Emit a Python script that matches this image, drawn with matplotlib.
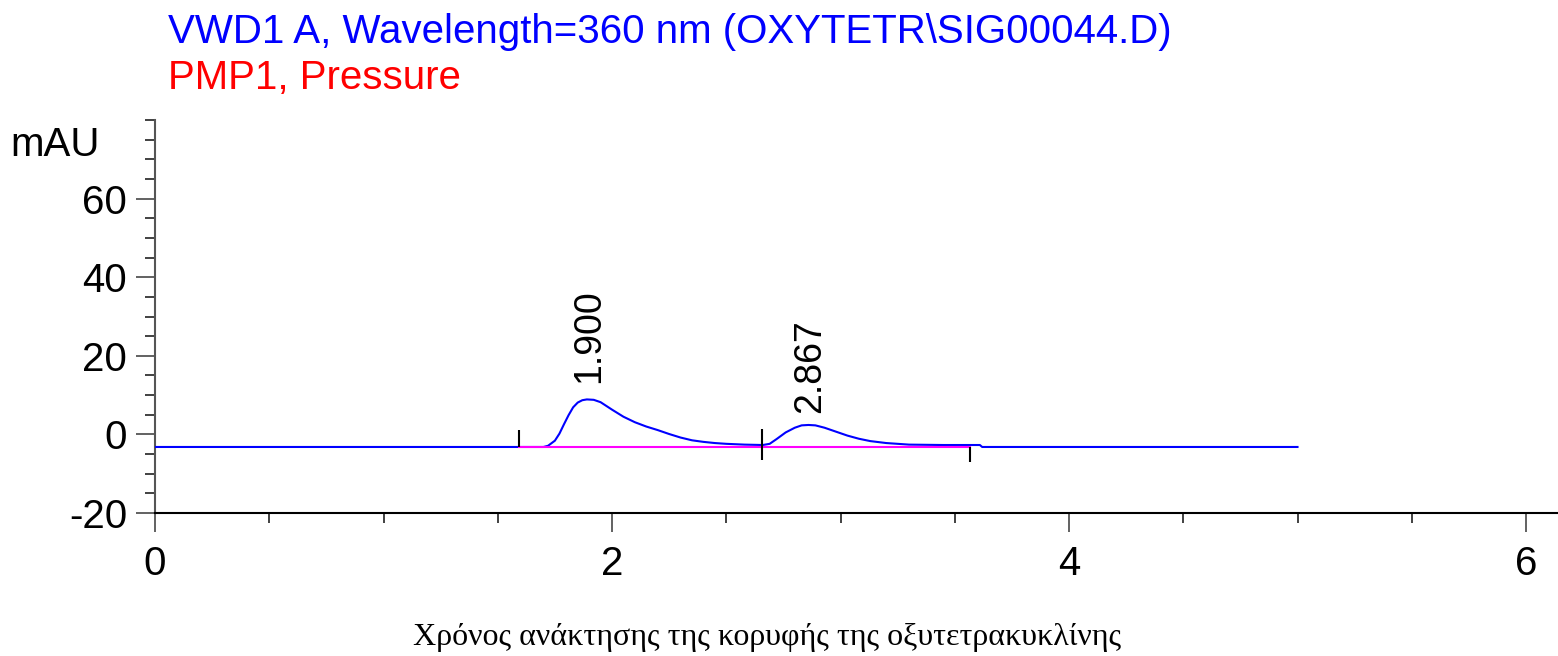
import matplotlib
matplotlib.use("Agg")
import matplotlib.pyplot as plt
from matplotlib.ticker import MultipleLocator

# chromatogram trace (time in min, signal in mAU)
time = [0.0, 1.70, 1.72, 1.75, 1.77, 1.79, 1.81, 1.83, 1.85, 1.87, 1.89, 1.92,
        1.95, 2.00, 2.05, 2.10, 2.15, 2.20, 2.25, 2.30, 2.35, 2.40, 2.45, 2.50,
        2.58, 2.66, 2.69, 2.72, 2.76, 2.80, 2.83, 2.86, 2.89, 2.93, 2.98, 3.03,
        3.08, 3.13, 3.20, 3.30, 3.45, 3.61, 3.62, 5.0]
signal = [-3.2, -3.2, -2.9, -1.6, 0.2, 2.6, 4.9, 6.9, 8.1, 8.7, 8.9, 8.8,
          8.2, 6.3, 4.5, 3.1, 2.0, 1.1, 0.1, -0.8, -1.5, -1.9, -2.2, -2.4,
          -2.6, -2.7, -2.4, -1.2, 0.5, 1.7, 2.3, 2.4, 2.3, 1.7, 0.7, -0.3,
          -1.1, -1.7, -2.2, -2.6, -2.7, -2.7, -3.2, -3.2]

# retention times and label heights
peak_rt = [1.900, 2.867]
peak_label = ["1.900", "2.867"]
label_y = [13.0, 5.5]

# integration baseline and event marks
base_x = [1.593, 3.567]
base_y = [-3.2, -3.2]
mark_x = [1.593, 2.656, 3.567]
mark_lo = [-3.2, -6.6, -7.1]
mark_hi = [1.1, 1.5, -3.1]

sans = "Liberation Sans"
serif = "Liberation Serif"
plt.rcParams["axes.unicode_minus"] = False

fig = plt.figure(figsize=(15.58, 6.56), dpi=100)
ax = fig.add_axes([155 / 1558, 1 - 513 / 656, 1 - 155 / 1558, 393 / 656])

ax.plot(time, signal, color="#0000ff", lw=1.5, zorder=3)
ax.plot(base_x, base_y, color="#ff00ff", lw=1.5, zorder=4)
ax.vlines(mark_x, mark_lo, mark_hi, color="black", lw=1.5, zorder=5)

for rt, lab, ly in zip(peak_rt, peak_label, label_y):
    ax.text(rt, ly, lab, rotation=90, ha="center", va="bottom",
            fontsize=27, family=sans)

ax.set_xlim(0, 6.14)
ax.set_ylim(-20, 80)
ax.xaxis.set_major_locator(MultipleLocator(2))
ax.xaxis.set_minor_locator(MultipleLocator(0.5))
ax.yaxis.set_major_locator(MultipleLocator(20))
ax.yaxis.set_minor_locator(MultipleLocator(5))
ax.set_yticks([-20, 0, 20, 40, 60])

for s in ["top", "right"]:
    ax.spines[s].set_visible(False)
ax.spines["left"].set_color("#555555")
ax.spines["left"].set_linewidth(1.5)
ax.spines["bottom"].set_linewidth(1.5)

ax.tick_params(axis="both", which="major", length=14, width=1.3,
               color="#555555", labelsize=29, pad=6)
ax.tick_params(axis="both", which="minor", length=7, width=1.3, color="#333333")
ax.tick_params(axis="x", which="major", pad=9)
for t in ax.get_xticklabels() + ax.get_yticklabels():
    t.set_family(sans)

fig.text(100 / 1558, 1 - 145 / 656, "mAU", ha="right", va="center",
         fontsize=29, family=sans)
fig.text(168 / 1558, 1 - 43 / 656,
         "VWD1 A, Wavelength=360 nm (OXYTETR\\SIG00044.D)",
         color="#0000ff", fontsize=29, family=sans, va="baseline")
fig.text(168 / 1558, 1 - 89 / 656, "PMP1, Pressure",
         color="#ff0000", fontsize=29, family=sans, va="baseline")
fig.text(767 / 1558, 1 - 645 / 656,
         "Χρόνος ανάκτησης της κορυφής της οξυτετρακυκλίνης",
         ha="center", va="baseline", fontsize=23, family=serif)

fig.savefig("out.png", dpi=100)
